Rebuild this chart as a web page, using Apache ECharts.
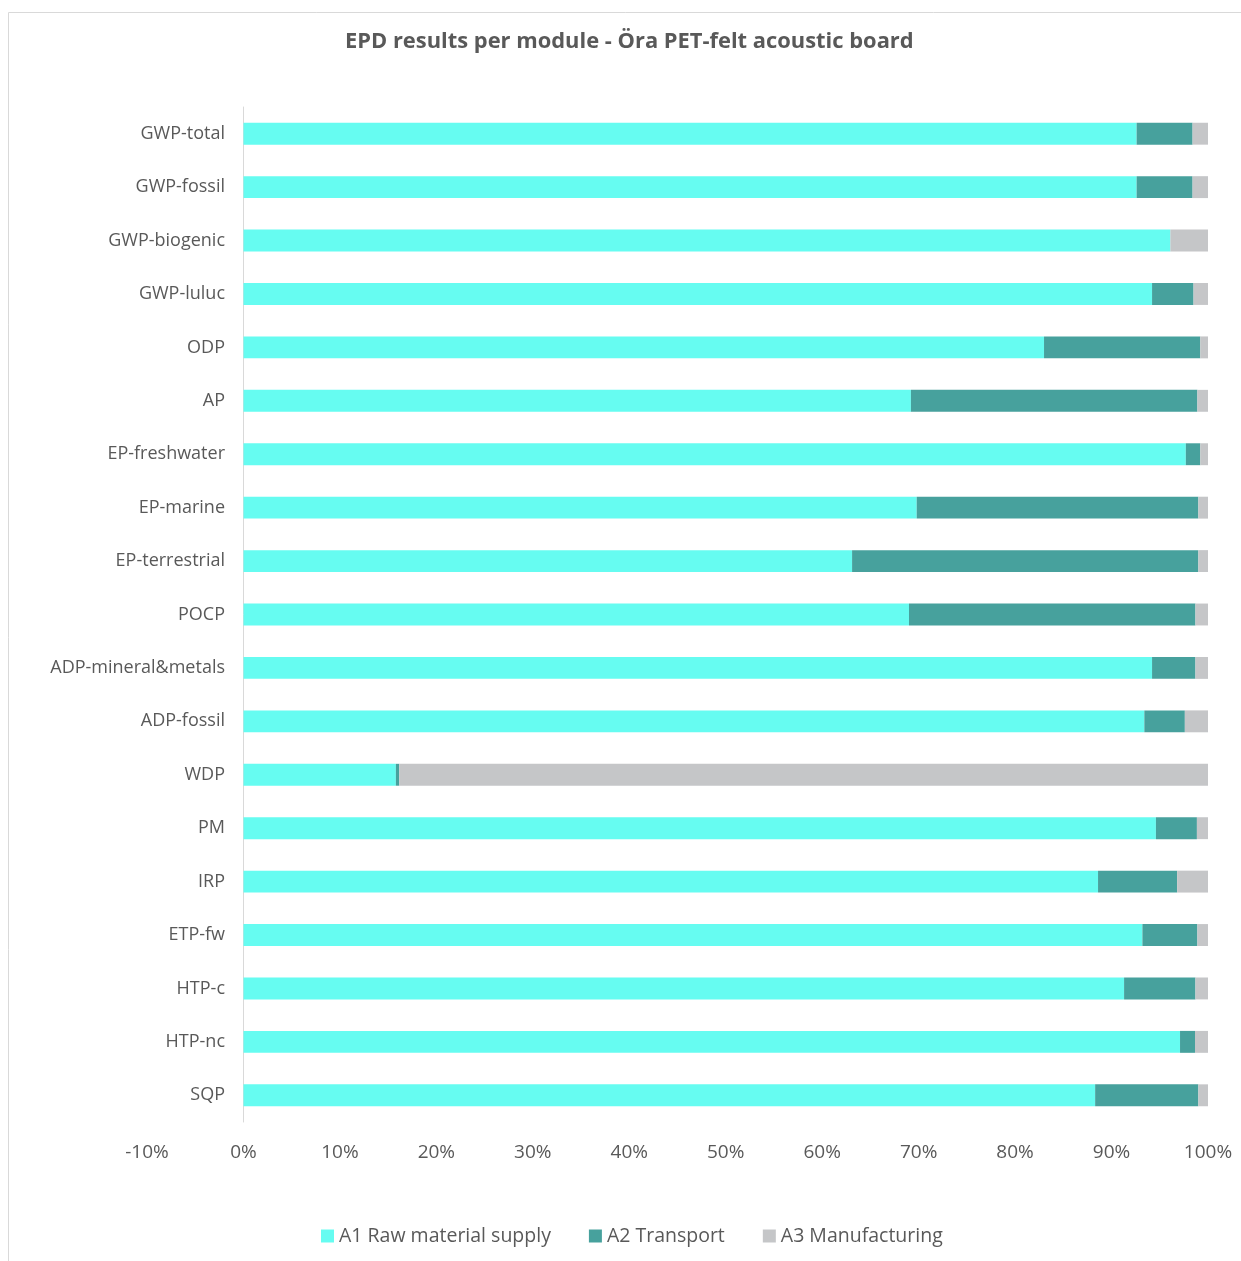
<!DOCTYPE html>
<html>
<head>
<meta charset="utf-8">
<script src="https://cdn.jsdelivr.net/npm/echarts@6/dist/echarts.min.js"></script>
<style>
html,body{margin:0;padding:0;background:#fff;}
#chart{width:1241px;height:1261px;}
</style>
</head>
<body>
<div id="chart"></div>
<script>
const categories = ['GWP-total','GWP-fossil','GWP-biogenic','GWP-luluc','ODP','AP','EP-freshwater','EP-marine','EP-terrestrial','POCP','ADP-mineral&metals','ADP-fossil','WDP','PM','IRP','ETP-fw','HTP-c','HTP-nc','SQP'];
const a1 = [92.6, 92.6, 96.1, 94.2, 83.0, 69.2, 97.7, 69.8, 63.1, 69.0, 94.2, 93.4, 15.8, 94.6, 88.6, 93.2, 91.3, 97.1, 88.3];
const a2 = [5.8, 5.8, 0.0, 4.3, 16.2, 29.7, 1.5, 29.2, 35.9, 29.7, 4.5, 4.2, 0.35, 4.25, 8.2, 5.7, 7.4, 1.55, 10.7];
const a3 = [1.6, 1.6, 3.9, 1.5, 0.8, 1.1, 0.8, 1.0, 1.0, 1.3, 1.3, 2.4, 83.85, 1.15, 3.2, 1.1, 1.3, 1.35, 1.0];
const seriesNames = ['A1 Raw material supply','A2 Transport','A3 Manufacturing'];
const colors = ['#66FCF1','#47A19D','#C5C6C8'];
const xMin = -10, xMax = 100, xStep = 10;

const chart = echarts.init(document.getElementById('chart'));
const font = '"Open Sans", sans-serif';
const txt = '#595959';
chart.setOption({
  animation: false,
  textStyle: {fontFamily: font},
  title: {
    text: 'EPD results per module - Öra PET-felt acoustic board',
    left: 340, top: 26,
    textStyle: {fontFamily: font, fontSize: 21.9, fontWeight: 'bold', color: txt}
  },
  graphic: [{
    type: 'rect', shape: {x: 8.5, y: 12.5, width: 1240, height: 1260},
    style: {fill: 'none', stroke: '#d9d9d9', lineWidth: 1}, silent: true, z: -10
  }],
  legend: {
    bottom: 10, left: 316, icon: 'rect', itemWidth: 13, itemHeight: 13, itemGap: 38,
    textStyle: {fontFamily: font, fontSize: 19.5, color: txt},
    data: seriesNames
  },
  grid: {left: 147, right: 33, top: 107, bottom: 139, containLabel: false, outerBoundsMode: 'none'},
  xAxis: {
    type: 'value', min: xMin, max: xMax, interval: xStep,
    axisLine: {show: false}, axisTick: {show: false}, splitLine: {show: false},
    axisLabel: {fontFamily: font, fontSize: 19, color: txt, margin: 21, formatter: v => Math.round(v) + '%'}
  },
  yAxis: {
    type: 'category', data: categories, inverse: true,
    axisLine: {show: true, onZero: true, lineStyle: {color: '#d9d9d9'}},
    axisTick: {show: false},
    axisLabel: {fontFamily: font, fontSize: 18, color: txt, margin: -78}
  },
  series: [a1, a2, a3].map((d, i) => ({
    name: seriesNames[i], type: 'bar', stack: 'total', data: d,
    barWidth: '41%', itemStyle: {color: colors[i]}
  }))
});
</script>
</body>
</html>
